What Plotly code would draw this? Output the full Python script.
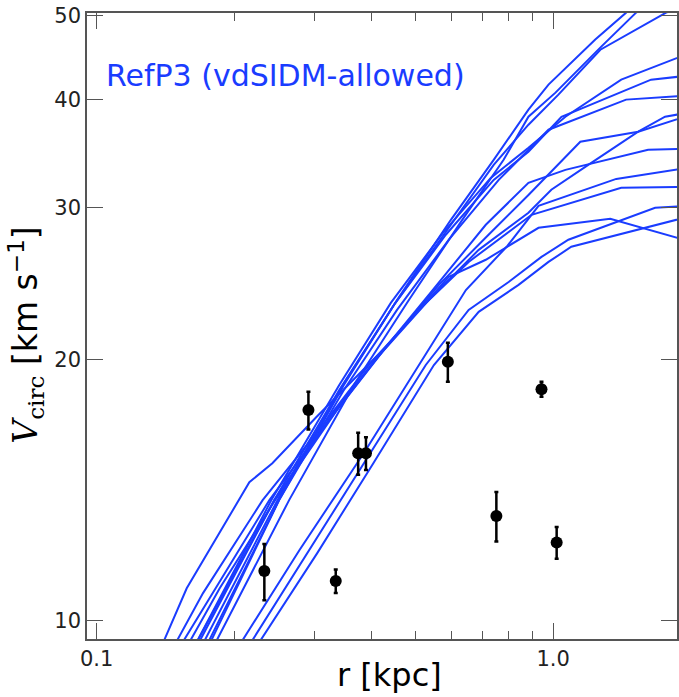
import plotly.graph_objects as go

# --- simulated rotation curves (r in kpc, V in km/s) ---
r_t1 = [0.172, 0.251, 0.348, 0.455, 0.597, 0.741, 0.883, 0.977, 1.237, 1.445, 1.656]
v_t1 = [9.23, 13.77, 18.71, 23.46, 29.04, 34.07, 38.93, 41.62, 46.92, 50.41, 53.33]

r_t2 = [0.1785, 0.264, 0.366, 0.483, 0.628, 0.779, 0.883, 1.012, 1.275, 1.520, 1.715]
v_t2 = [9.23, 13.77, 18.71, 23.46, 28.88, 34.07, 38.21, 40.74, 46.05, 50.41, 53.02]

r_t3 = [0.164, 0.245, 0.340, 0.448, 0.576, 0.741, 0.883, 1.027, 1.269, 1.768, 1.974]
v_t3 = [9.23, 13.77, 18.46, 23.15, 27.91, 33.62, 37.41, 40.52, 45.67, 50.41, 51.50]

r_m1 = [0.162, 0.2414, 0.340, 0.441, 0.576, 0.730, 0.883, 1.064, 1.410, 1.974]
v_m1 = [9.23, 13.77, 18.71, 23.28, 28.13, 32.47, 35.18, 38.21, 42.17, 45.19]

r_m2 = [0.168, 0.249, 0.343, 0.448, 0.582, 0.741, 0.883, 1.043, 1.639, 1.974]
v_m2 = [9.23, 13.77, 18.56, 23.15, 27.91, 32.30, 34.81, 38.21, 42.17, 42.62]

r_m3 = [0.174, 0.251, 0.348, 0.455, 0.591, 0.760, 0.977, 1.445, 1.974]
v_m3 = [9.23, 13.77, 18.46, 22.85, 27.54, 32.30, 36.91, 39.99, 40.42]

r_m4 = [0.156, 0.186, 0.246, 0.336, 0.426, 0.562, 0.722, 0.883, 1.147, 1.536, 1.974]
v_m4 = [9.23, 10.89, 13.77, 17.50, 20.54, 24.42, 27.91, 31.03, 35.75, 36.72, 38.31]

r_m5 = [0.162, 0.191, 0.245, 0.331, 0.416, 0.534, 0.712, 0.883, 1.064, 1.615, 1.974]
v_m5 = [9.23, 10.83, 13.77, 17.41, 20.26, 23.78, 28.66, 32.04, 33.17, 34.99, 35.09]

r_m6 = [0.1505, 0.181, 0.239, 0.323, 0.411, 0.534, 0.687, 0.883, 0.991, 1.194, 1.536, 1.759, 1.974]
v_m6 = [9.23, 10.83, 13.77, 17.04, 20.10, 23.46, 26.81, 29.59, 31.46, 33.62, 36.72, 38.21, 38.62]

r_m7 = [0.146, 0.171, 0.231, 0.307, 0.395, 0.508, 0.653, 0.897, 1.410, 1.974]
v_m7 = [9.23, 10.75, 13.77, 16.60, 19.73, 22.85, 25.96, 29.43, 31.62, 31.71]

r_u1 = [0.1375, 0.1575, 0.216, 0.2426, 0.303, 0.430, 0.591, 0.712, 0.929, 1.334, 1.974]
v_u1 = [9.23, 10.89, 14.44, 15.19, 17.18, 20.70, 24.95, 26.11, 28.43, 29.12, 27.46]

r_l1 = [0.2055, 0.278, 0.385, 0.508, 0.644, 0.791, 0.929, 1.375, 1.974]
v_l1 = [9.36, 12.05, 15.61, 19.73, 24.09, 27.03, 30.14, 32.38, 33.35]

r_l2 = [0.216, 0.292, 0.391, 0.526, 0.653, 0.799, 0.943, 1.080, 1.673, 1.974]
v_l2 = [9.36, 12.05, 15.40, 19.73, 22.85, 24.61, 26.31, 27.54, 29.98, 30.14]

r_l3 = [0.225, 0.304, 0.405, 0.548, 0.687, 0.840, 0.977, 1.096, 1.974]
v_l3 = [9.36, 11.95, 15.23, 19.73, 22.73, 24.42, 25.96, 27.03, 29.27]

# --- observed data points ---
obs_r = [0.233, 0.291, 0.334, 0.374, 0.389, 0.588, 0.751, 0.943, 1.018]
obs_v = [11.4, 17.5, 11.1, 15.6, 15.6, 19.9, 13.2, 18.5, 12.3]
obs_err = [0.85, 0.88, 0.35, 0.87, 0.68, 1.03, 0.87, 0.37, 0.52]

x_ticks = [0.1, 1.0]
x_ticktext = ["0.1", "1.0"]
x_minor = [0.2, 0.3, 0.4, 0.5, 0.6, 0.7, 0.8, 0.9]
y_ticks = [10, 20, 30, 40, 50]

LINE_BLUE = "#1a3cff"
AXIS_GREY = "#555555"
FONT = "DejaVu Sans"

curves = [
    (r_t1, v_t1), (r_t2, v_t2), (r_t3, v_t3),
    (r_m1, v_m1), (r_m2, v_m2), (r_m3, v_m3), (r_m4, v_m4),
    (r_m5, v_m5), (r_m6, v_m6), (r_m7, v_m7), (r_u1, v_u1),
    (r_l1, v_l1), (r_l2, v_l2), (r_l3, v_l3),
]

fig = go.Figure()
for rr, vv in curves:
    fig.add_trace(go.Scatter(x=rr, y=vv, mode="lines",
                             line=dict(color=LINE_BLUE, width=2),
                             hoverinfo="skip"))

fig.add_trace(go.Scatter(
    x=obs_r, y=obs_v, mode="markers",
    marker=dict(color="black", size=12),
    error_y=dict(type="data", array=obs_err, color="black", thickness=2.5, width=2),
))

fig.update_xaxes(
    type="log", range=[-1.0212, 0.2714],
    tickvals=x_ticks, ticktext=x_ticktext,
    ticks="inside", ticklen=16, tickwidth=1, tickcolor=AXIS_GREY,
    minor=dict(tickvals=x_minor, ticks="inside", ticklen=8, tickwidth=1, tickcolor=AXIS_GREY),
    showline=True, linecolor=AXIS_GREY, linewidth=1.5, mirror="ticks",
    showgrid=False, zeroline=False,
    tickfont=dict(family=FONT, size=21, color="#222"),
)
fig.update_yaxes(
    type="log", range=[0.97836, 1.7021],
    tickvals=y_ticks, ticktext=[str(t) for t in y_ticks],
    ticks="inside", ticklen=16, tickwidth=1, tickcolor=AXIS_GREY,
    showline=True, linecolor=AXIS_GREY, linewidth=1.5, mirror="ticks",
    showgrid=False, zeroline=False,
    tickfont=dict(family=FONT, size=21, color="#222"),
)

fig.add_annotation(
    text="RefP3 (vdSIDM-allowed)", xref="paper", yref="paper",
    x=0.0287, y=0.8997, xanchor="left", yanchor="middle", showarrow=False,
    font=dict(family=FONT, size=30, color=LINE_BLUE),
)
fig.add_annotation(
    text="r [kpc]", xref="paper", yref="paper",
    x=0.5135, y=-0.0575, xanchor="center", yanchor="middle", showarrow=False,
    font=dict(family=FONT, size=32, color="black"),
)
fig.add_annotation(
    text="<span style=\"font-family:'DejaVu Serif'\"><i>V</i><sub>circ</sub></span> [km s<sup>\u22121</sup>]",
    xref="paper", yref="paper",
    x=-0.104, y=0.4856, xanchor="center", yanchor="middle", showarrow=False,
    textangle=-90,
    font=dict(family=FONT, size=33, color="black"),
)

fig.update_layout(
    width=679, height=697,
    margin=dict(l=87, r=0, t=13, b=58),
    plot_bgcolor="white", paper_bgcolor="white",
    showlegend=False,
)

# drop the default body margin so the figure sits at the window's corner
fig.write_html("out.html", config={"displayModeBar": False},
               post_script="document.body.style.margin='0px';")
